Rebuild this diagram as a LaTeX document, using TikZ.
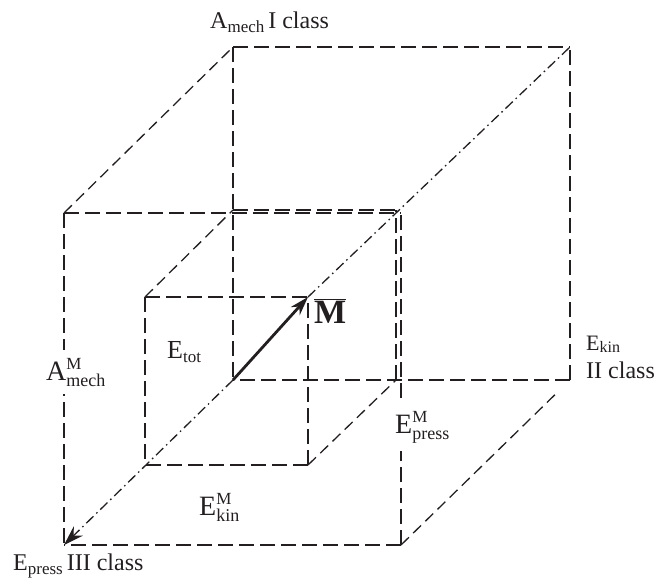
\documentclass[tikz,border=0pt]{standalone}
\usepackage{fontspec}
\setmainfont{Liberation Serif}
\usetikzlibrary{arrows.meta, calc}
\definecolor{edgeink}{HTML}{231F20}

% E with subscript, E with super- and subscript
\newcommand{\lsub}[2]{#1\raisebox{-4pt}{\fontsize{17}{17}\selectfont #2}}
\newcommand{\lsupsub}[3]{#1\makebox[0pt][l]{\raisebox{11pt}{\fontsize{17}{17}\selectfont #2}}\raisebox{-6pt}{\fontsize{18}{18}\selectfont #3}}

\tikzset{
  edge/.style={draw=edgeink, line width=1.4pt, dash pattern=on 15pt off 6pt},
  slant/.style={draw=edgeink, line width=1.3pt, dash pattern=on 11pt off 6pt},
  axisline/.style={draw=edgeink, line width=1.3pt, dash pattern=on 10pt off 4pt on 1.5pt off 4pt},
  vecarrow/.style={draw=edgeink, line width=2.8pt, -{Stealth[length=19pt,width=12pt]}},
  lbl/.style={text=edgeink, inner sep=1pt, anchor=base west},
  mlbl/.style={lbl, fill=white, inner xsep=1pt, inner ysep=8pt, font=\fontsize{28}{28}\selectfont}
}

\begin{document}
\begin{tikzpicture}[x=1pt, y=-1pt]
  \useasboundingbox (0,0) rectangle (659,584);
  % outer cube
  \coordinate (of1) at (64,213);  \coordinate (of2) at (401,213);
  \coordinate (of3) at (401,545); \coordinate (of4) at (64,545);
  \coordinate (ob1) at (233,47);  \coordinate (ob2) at (570,47);
  \coordinate (ob3) at (570,380); \coordinate (ob4) at (233,380);
  % inner cube
  \coordinate (if1) at (145,297); \coordinate (if2) at (308,297);
  \coordinate (if3) at (308,465); \coordinate (if4) at (145,465);
  \coordinate (ib1) at (233,210); \coordinate (ib2) at (396,210);
  \coordinate (ib3) at (396,380);

  \foreach \a/\b in {of1/of2, of1/of4, of3/of2, of3/of4,
                     ob1/ob2, ob1/ob4, ob3/ob2, ob3/ob4,
                     if1/if2, if1/if4, if3/if2, if3/if4,
                     ib1/ib2, ib3/ib2}
    \draw[edge] (\a) -- (\b);
  \foreach \a/\b in {of1/ob1, if1/ib1, if3/ib3}
    \draw[slant] (\a) -- (\b);
  \draw[slant, shorten >=20pt] (of3) -- (ob3);

  % axes and vector
  \draw[axisline] (if2) -- (ob2);
  \draw[axisline, -{Stealth[length=20pt,width=13pt]}] (ob4) -- (of4);
  \draw[vecarrow] (ob4) -- (if2);

  % labels
  \node[lbl, font=\fontsize{24}{24}\selectfont] (amech) at (209,28) {\lsub{A}{mech}\,I class};
  \node[lbl, font=\fontsize{34}{34}\selectfont] (mvec) at (313,323) {$\overline{\mbox{\bfseries M}}$};
  \node[lbl, font=\fontsize{26}{26}\selectfont] (etot) at (166,358) {\lsub{E}{tot}};
  \node[mlbl] (amechm) at (45,380) {\lsupsub{A}{M}{mech}};
  \node[lbl, font=\fontsize{22}{22}\selectfont] (ekin) at (585,350)
    {E\raisebox{-2pt}{\fontsize{16}{16}\selectfont kin}};
  \node[lbl, font=\fontsize{24}{24}\selectfont] (classii) at (585,378) {II class};
  \node[mlbl] (epressm) at (394,433) {\lsupsub{E}{M}{press}};
  \node[mlbl, fill=none] (ekinm) at (198,515) {\lsupsub{E}{M}{kin}};
  \node[lbl, font=\fontsize{24}{24}\selectfont] (epress) at (12,570) {\lsub{E}{press}\,III class};
\end{tikzpicture}
\end{document}
